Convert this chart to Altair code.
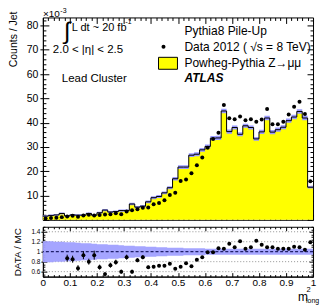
import altair as alt
import pandas as pd

FONT = "Liberation Sans"

# ---------------- data (counts/jet in units of 1e-3) ----------------
bin_lo = [round(0.02 * i, 2) for i in range(50)]
bin_c = [round(0.02 * i + 0.01, 2) for i in range(50)]

mc = [1.5, 1.8, 2.0, 2.6, 1.6, 2.0, 1.9, 1.9, 2.6, 1.9,
      2.9, 4.0, 3.2, 3.4, 3.8, 3.8, 6.5, 5.2, 5.6, 7.4,
      9.1, 9.6, 11.1, 13.2, 16.9, 21.7, 21.7, 26.6, 27.0, 28.8,
      30.2, 33.6, 33.7, 44.8, 36.3, 38.0, 35.2, 38.7, 38.0, 33.3,
      36.2, 41.9, 36.1, 37.1, 38.1, 40.8, 42.3, 44.6, 41.9, 13.4]

mc_err = [0.35, 0.35, 0.35, 0.4, 0.35, 0.35, 0.35, 0.35, 0.4, 0.35,
          0.4, 0.45, 0.4, 0.4, 0.45, 0.45, 0.5, 0.5, 0.5, 0.55,
          0.6, 0.6, 0.6, 0.65, 0.7, 0.75, 0.75, 0.8, 0.8, 0.8,
          0.8, 0.85, 0.85, 0.95, 0.85, 0.85, 0.85, 0.85, 0.85, 0.8,
          0.85, 0.9, 0.85, 0.85, 0.85, 0.9, 0.9, 0.9, 0.9, 0.55]

data = [0.5, 0.7, 0.8, 1.1, 1.4, 1.7, 1.3, 1.8, 2.1, 1.8,
        2.0, 2.2, 2.3, 2.7, 2.3, 3.4, 3.9, 4.3, 5.0, 5.1,
        6.4, 6.9, 8.0, 10.2, 11.1, 16.0, 16.6, 19.2, 22.5, 25.6,
        29.7, 33.3, 35.8, 47.3, 41.8, 41.4, 42.5, 41.0, 41.4, 40.4,
        41.3, 45.6, 39.3, 39.3, 40.4, 43.3, 46.5, 48.6, 43.6, 15.9]

ratio = [None, None, None, None, 0.87, 0.85, 0.67, 0.93, 0.80, 0.93,
         0.69, 0.55, 0.73, 0.79, 0.60, 0.89, 0.60, 0.83, 0.89, 0.69,
         0.70, 0.72, 0.72, 0.76, 0.66, 0.70, 0.77, 0.71, 0.84, 0.89,
         0.99, 0.99, 1.07, 1.06, 1.16, 1.09, 1.21, 1.06, 1.09, 1.22,
         1.14, 1.09, 1.09, 1.06, 1.06, 1.06, 1.10, 1.09, 1.04, 1.19]

ratio_err = [0, 0, 0, 0, 0.07, 0.07, 0.06, 0.08, 0.06, 0.09,
             0.05, 0.04, 0.05, 0.05, 0.04, 0.05, 0.04, 0.04, 0.04, 0.03,
             0.03, 0.03, 0.03, 0.02, 0.02, 0.02, 0.02, 0.02, 0.02, 0.02,
             0.02, 0.02, 0.02, 0.02, 0.02, 0.02, 0.02, 0.02, 0.02, 0.02,
             0.02, 0.02, 0.02, 0.02, 0.02, 0.02, 0.02, 0.02, 0.02, 0.03]

band = [0.21, 0.21, 0.20, 0.20, 0.19, 0.19, 0.18, 0.17, 0.17, 0.16,
        0.15, 0.15, 0.14, 0.14, 0.13, 0.12, 0.12, 0.11, 0.11, 0.10,
        0.10, 0.09, 0.09, 0.08, 0.08, 0.08, 0.07, 0.07, 0.07, 0.07,
        0.06, 0.06, 0.06, 0.06, 0.06, 0.06, 0.06, 0.06, 0.06, 0.06,
        0.06, 0.06, 0.06, 0.06, 0.06, 0.06, 0.06, 0.06, 0.06, 0.06]

ref_lines = [0.6, 0.8, 1.2, 1.4]

x_ticks = [round(0.02 * i, 2) for i in range(51)]
x_labels = [0, 0.1, 0.2, 0.3, 0.4, 0.5, 0.6, 0.7, 0.8, 0.9, 1]
ym_ticks = list(range(0, 84, 2))
ym_labels = [10, 20, 30, 40, 50, 60, 70, 80]
yr_ticks = [round(0.5 + 0.05 * i, 2) for i in range(21)]
yr_labels = [0.6, 0.8, 1, 1.2, 1.4]

# ---------------- tables ----------------
edges = bin_lo + [1.0]
step = pd.DataFrame({
    "x": edges,
    "mc": mc + [mc[-1]],
    "lo": [m - e for m, e in zip(mc, mc_err)] + [mc[-1] - mc_err[-1]],
    "hi": [m + e for m, e in zip(mc, mc_err)] + [mc[-1] + mc_err[-1]],
    "rlo": [1 - b for b in band] + [1 - band[-1]],
    "rhi": [1 + b for b in band] + [1 + band[-1]],
})
pts = pd.DataFrame({"xc": bin_c, "data": data})
rat = pd.DataFrame({"xc": bin_c, "r": ratio, "e": ratio_err}).dropna()
rat["lo"] = rat["r"] - rat["e"]
rat["hi"] = rat["r"] + rat["e"]
refs = pd.DataFrame({"v": ref_lines})
unity = pd.DataFrame({"v": [1.0]})
one = pd.DataFrame({"a": [0]})

W, H = 271, 260
XS = alt.Scale(domain=[0, 1], nice=False, zero=False)
YM = alt.Scale(domain=[0, 83.3], range=[203, 0], nice=False, zero=False)
YR = alt.Scale(domain=[0.5, 1.5], range=[260, 210], nice=False, zero=False)

XT = "abs(datum.value*10 - round(datum.value*10)) < 0.001"
YMT = "datum.value % 10 === 0"
YRT = "abs(datum.value*5 - round(datum.value*5)) < 0.001"


def axis(orient, values, offset=0, labels=False, ticks=True, size=None, test=None,
         major=6, minor=3, fs=10, lp=2, fmt=None):
    kw = dict(orient=orient, offset=offset, values=values, labels=labels, ticks=ticks,
              grid=False, title=None, domain=True, domainColor="black", domainWidth=1,
              tickColor="black", tickWidth=1, labelFont=FONT, labelFontSize=fs,
              labelColor="black", labelPadding=lp, labelFlush=False, labelOverlap=False)
    if test is not None:
        kw["tickSize"] = {"condition": {"test": test, "value": major}, "value": minor}
    elif size is not None:
        kw["tickSize"] = size
    if fmt:
        kw["format"] = fmt
    return alt.Axis(**kw)


# ---------------- main panel ----------------
main_area = alt.Chart(step).mark_area(interpolate="step-after", color="#ffff00").encode(
    x=alt.X("x:Q", scale=XS, axis=axis("top", x_ticks, offset=-203, test=XT, major=6, minor=3)),
    y=alt.Y("mc:Q", scale=YM, stack=None, axis=None),
    y2=alt.datum(0),
)
main_band = alt.Chart(step).mark_area(interpolate="step-after", color="#9a9aff").encode(
    x=alt.X("x:Q", scale=XS, axis=axis("bottom", x_ticks, offset=-260, test=XT, major=6, minor=3)),
    y=alt.Y("lo:Q", scale=YM, axis=axis("left", ym_labels, labels=True, size=3, fs=10.5,
                                         lp=2, fmt=".0f")),
    y2="hi:Q",
)
main_line = alt.Chart(step).mark_line(interpolate="step-after", color="black", strokeWidth=1).encode(
    x=alt.X("x:Q", scale=XS, axis=axis("bottom", x_ticks, offset=-50, test=XT, major=4, minor=2)),
    y=alt.Y("mc:Q", scale=YM, axis=axis("left", ym_ticks, offset=-271, test=YMT, major=6, minor=3)),
)
main_pts = alt.Chart(pts).mark_circle(size=16, color="black", opacity=1).encode(
    x=alt.X("xc:Q", scale=XS, axis=None),
    y=alt.Y("data:Q", scale=YM, axis=axis("right", ym_ticks, offset=-271, test=YMT, major=6, minor=3)),
)

# ---------------- ratio panel ----------------
r_refs = alt.Chart(refs).mark_rule(color="#777777", strokeWidth=0.8, strokeDash=[1, 2]).encode(
    y=alt.Y("v:Q", scale=YR, axis=axis("right", yr_ticks, offset=-271, test=YRT, major=4, minor=2)),
)
r_band = alt.Chart(step).mark_area(interpolate="step-after", color="#a0a0ff", opacity=0.95).encode(
    x=alt.X("x:Q", scale=XS, axis=axis("bottom", x_labels, labels=True, ticks=False, size=0,
                                       fs=10, lp=1, fmt="~g")),
    y=alt.Y("rlo:Q", scale=YR, axis=axis("left", yr_labels, labels=True, size=2, fs=6.5, lp=1,
                                         fmt="~g")),
    y2="rhi:Q",
)
r_unity = alt.Chart(unity).mark_rule(color="#20206a", strokeWidth=1.2, strokeDash=[3, 2]).encode(
    y=alt.Y("v:Q", scale=YR, axis=axis("left", yr_ticks, offset=-271, test=YRT, major=4, minor=2)),
)
r_err = alt.Chart(rat).mark_rule(color="black", strokeWidth=1).encode(
    x=alt.X("xc:Q", scale=XS, axis=axis("top", x_ticks, offset=-260, test=XT, major=4, minor=2)),
    y=alt.Y("lo:Q", scale=YR, axis=None),
    y2="hi:Q",
)
r_pts = alt.Chart(rat).mark_circle(size=16, color="black", opacity=1).encode(
    x=alt.X("xc:Q", scale=XS, axis=None),
    y=alt.Y("r:Q", scale=YR, axis=None),
)


def txt(s, x, y, size, align="left", baseline="middle", weight="normal", style="normal", angle=0):
    return alt.Chart(one).mark_text(
        text=s, align=align, baseline=baseline, font=FONT, fontSize=size,
        fontWeight=weight, fontStyle=style, angle=angle, color="black",
    ).encode(x=alt.value(x), y=alt.value(y))


legend_box = alt.Chart(one).mark_rect(color="#ffff00", stroke="black", strokeWidth=1).encode(
    x=alt.value(116), x2=alt.value(135), y=alt.value(40), y2=alt.value(52))
legend_dot = alt.Chart(one).mark_circle(size=16, color="black", opacity=1).encode(
    x=alt.value(121), y=alt.value(29.5))

texts = [
    txt("×10", 0, -3.5, 10),
    txt("-3", 17.5, -6.5, 7),
    txt("Counts / Jet", -29, 22, 10.5, align="center", angle=270),
    txt("DATA / MC", -25, 235.5, 10, align="center", angle=270),
    txt("∫", 24.5, 15, 24, align="center"),
    txt("L dt ~ 20 fb", 29, 10.5, 11),
    txt("-1", 82.5, 5, 7.5),
    txt("2.0 < |η| < 2.5", 10, 33, 11.5),
    txt("Lead Cluster", 19, 61.5, 11.5),
    txt("Pythia8 Pile-Up", 142, 14, 12),
    txt("Data 2012 ( √s = 8 TeV)", 142, 29.5, 12),
    txt("Powheg-Pythia Z→μμ", 142, 45.5, 12),
    txt("ATLAS", 142, 60.5, 12, weight="bold", style="italic"),
    txt("m", 256, 280.5, 12),
    txt("2", 264.5, 273, 7.5),
    txt("long", 264, 284.5, 7),
]

chart = alt.layer(
    main_area, main_band, main_line, main_pts,
    r_refs, r_band, r_unity, r_err, r_pts,
    legend_box, legend_dot, *texts,
).resolve_scale(y="independent").resolve_axis(x="independent", y="independent").properties(
    width=W, height=H, autosize="none",
    padding={"left": 35, "top": 9, "right": 8, "bottom": 28},
).configure_view(stroke=None)

chart.save("out.html", embed_options={"renderer": "svg", "actions": False})
